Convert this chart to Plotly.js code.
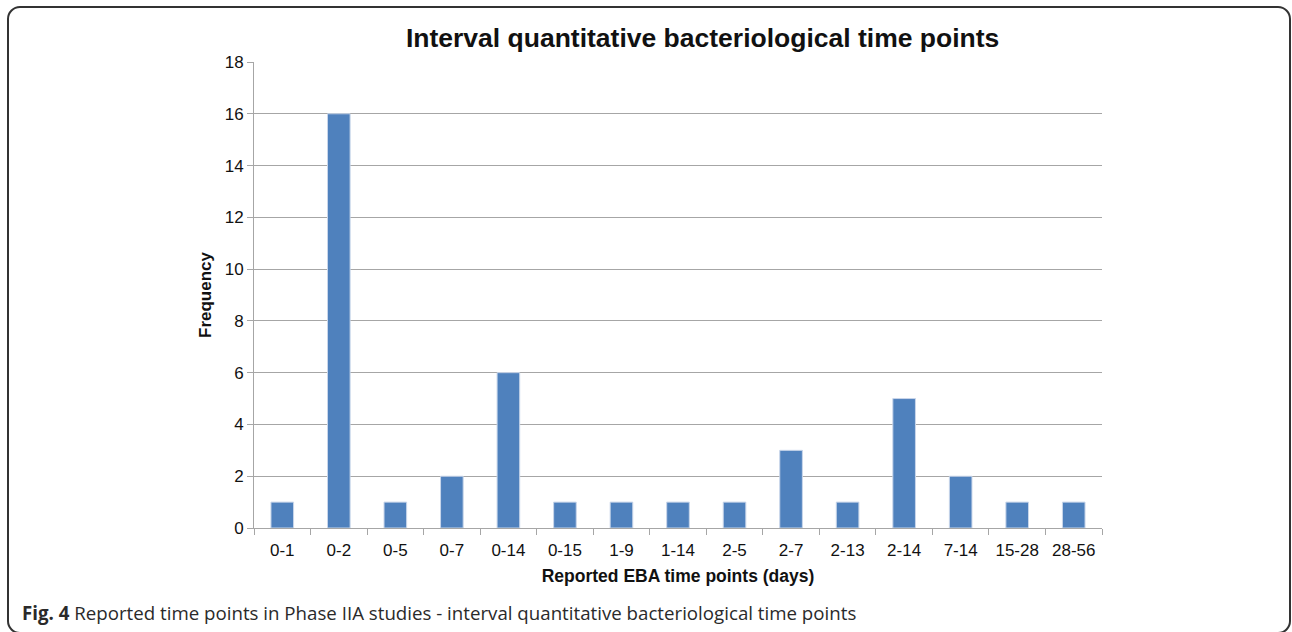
<!DOCTYPE html>
<html>
<head>
<meta charset="utf-8">
<script src="https://cdn.plot.ly/plotly-3.0.1.min.js"></script>
<style>
  html, body { margin: 0; padding: 0; background: #fff; }
  #wrap { position: relative; width: 1292px; height: 632px; overflow: hidden; }
  #frame { position: absolute; left: 7px; top: 6px; width: 1280px; height: 624px;
           border: 2px solid #333; border-radius: 13px; pointer-events: none; }
  #chart { position: absolute; left: 0; top: 0; width: 1292px; height: 632px; }
</style>
</head>
<body>
<div id="wrap">
  <div id="chart"></div>
  <div id="frame"></div>
</div>
<script>
const categories = ["0-1","0-2","0-5","0-7","0-14","0-15","1-9","1-14","2-5","2-7","2-13","2-14","7-14","15-28","28-56"];
const frequency = [1,16,1,2,6,1,1,1,1,3,1,5,2,1,1];
const yTicks = [0,2,4,6,8,10,12,14,16,18];

const trace = {
  type: "bar",
  x: categories,
  y: frequency,
  marker: { color: "#4F81BD", line: { color: "#c9d6ea", width: 1 } },
  hoverinfo: "x+y"
};

const layout = {
  width: 1292, height: 632,
  margin: { l: 254, r: 190, t: 62, b: 104 },
  paper_bgcolor: "rgba(0,0,0,0)",
  plot_bgcolor: "#fff",
  bargap: 0.6,
  showlegend: false,
  font: { family: "Liberation Sans, Arial, sans-serif", color: "#111", size: 17 },
  xaxis: {
    type: "category",
    showline: true, linecolor: "#a6a6a6", linewidth: 1,
    ticks: "outside", tickson: "boundaries", ticklen: 6, tickcolor: "#a6a6a6",
    showgrid: false,
    ticklabelstandoff: 7,
    tickfont: { size: 17, color: "#111" },
    title: { text: "<b>Reported EBA time points (days)</b>", font: { size: 17.5, color: "#111" }, standoff: 10 }
  },
  yaxis: {
    range: [0, 18], tickvals: yTicks, ticktext: yTicks.map(String),
    showline: true, linecolor: "#a6a6a6", linewidth: 1,
    ticks: "outside", ticklen: 6, tickcolor: "#a6a6a6",
    showgrid: true, gridcolor: "#a6a6a6", gridwidth: 1,
    zeroline: false,
    tickfont: { size: 17, color: "#111" },
    title: { text: "<b>Frequency</b>", font: { size: 17, color: "#111" }, standoff: 8 }
  },
  title: {
    text: "<b>Interval quantitative bacteriological time points</b>",
    font: { size: 26.5, color: "#111", family: "Liberation Sans, Arial, sans-serif" },
    x: 683.5 / 1292, xref: "paper", xanchor: "center",
    y: 1 - 38 / 632, yref: "container", yanchor: "middle"
  },
  annotations: [{
    text: "<b>Fig. 4</b> Reported time points in Phase IIA studies - interval quantitative bacteriological time points",
    xref: "paper", yref: "paper",
    x: (20 - 254) / 848, y: (528 - 612) / 466,
    xanchor: "left", yanchor: "middle", showarrow: false,
    font: { family: "Open Sans, Noto Sans, sans-serif", size: 18.7, color: "#2a2a2a" }
  }]
};

Plotly.newPlot("chart", [trace], layout, { displayModeBar: false, staticPlot: true });
</script>
</body>
</html>
